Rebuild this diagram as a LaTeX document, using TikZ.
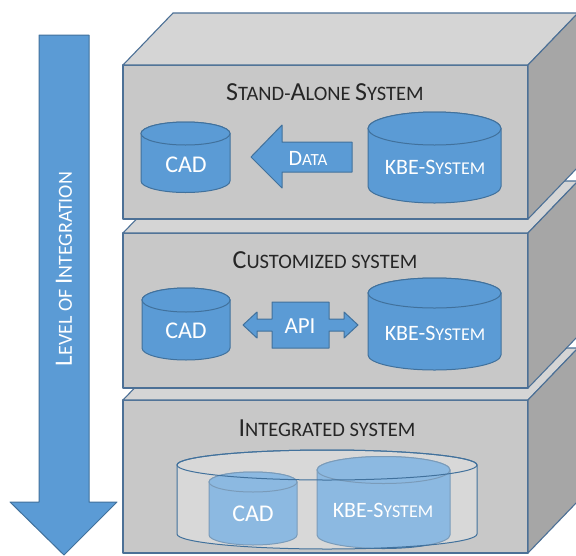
\documentclass[tikz,border=0pt]{standalone}
\usepackage{fontspec}
\setmainfont{Carlito}
\definecolor{frontc}{HTML}{C8C8C8}
\definecolor{topc}{HTML}{D5D5D5}
\definecolor{sidec}{HTML}{A6A6A6}
\definecolor{edgec}{HTML}{4C7096}
\definecolor{blu}{HTML}{5B9BD5}
\definecolor{bluedge}{HTML}{41719C}
\definecolor{txt}{HTML}{262626}
\newcommand\TB{\fontsize{26}{30}\selectfont}
\newcommand\TS{\fontsize{20.5}{24}\selectfont}
\newcommand\KB{\fontsize{22}{26}\selectfont}
\newcommand\KS{\fontsize{18}{21}\selectfont}
\newcommand\LB{\fontsize{25}{29}\selectfont}
\newcommand\LS{\fontsize{20}{24}\selectfont}
% slab: ytop, ybot
\newcommand\slab[2]{%
  \filldraw[slabedge,fill=frontc] (123,#1) rectangle (528,#2);
  \filldraw[slabedge,fill=topc] (123,#1) -- (173,#1-52) -- (578,#1-52) -- (528,#1) -- cycle;
  \filldraw[slabedge,fill=sidec] (528,#1) -- (578,#1-52) -- (578,#2-52) -- (528,#2) -- cycle;}
% cylinder: cx, ytop-center, ybot-center, rx, ry, style
\newcommand\cyl[6]{%
  \path[#6] (#1-#4,#2) -- (#1-#4,#3) arc[start angle=180,end angle=360,x radius=#4pt,y radius=#5pt]
     -- (#1+#4,#2) arc[start angle=0,end angle=180,x radius=#4pt,y radius=#5pt] -- cycle;
  \path[#6] (#1,#2) ellipse[x radius=#4pt,y radius=#5pt];}
\begin{document}
\begin{tikzpicture}[x=1pt,y=-1pt,
  slabedge/.style={draw=edgec,line width=1.1pt,line join=round},
  bluecyl/.style={fill=blu,draw=bluedge,line width=1pt},
  ttl/.style={text=txt,inner sep=0pt},
  wtxt/.style={text=white,inner sep=0pt}]
\useasboundingbox (0,0) rectangle (576,555);
\fill[white] (0,0) rectangle (576,555);
% big arrow
\filldraw[fill=blu,draw=bluedge,line width=1pt,line join=round]
  (39,35) -- (89,35) -- (89,502) -- (117,502) -- (64,555) -- (10,502) -- (39,502) -- cycle;
\node[wtxt,rotate=90] (lvl) at (64,269) {\LB L\LS EVEL OF \LB I\LS NTEGRATION};
% slabs, bottom first
\slab{400}{553}
\slab{233}{388}
\slab{65}{219}
% slab 1: stand-alone
\node[ttl] (t1) at (325,92) {\TB S\TS TAND-\TB A\TS LONE \TB S\TS YSTEM};
\cyl{185.5}{133.5}{181}{44.5}{11.5}{bluecyl}
\node[wtxt] (cad1) at (186,165) {\fontsize{24}{28}\selectfont CAD};
\cyl{434.5}{128.5}{186.5}{66.5}{16.5}{bluecyl}
\node[wtxt] (kbe1) at (435,167) {\KB KBE-S\KS YSTEM};
\filldraw[fill=blu,draw=bluedge,line width=1pt,line join=round]
  (251,157) -- (282,125) -- (282,142) -- (352,142) -- (352,172) -- (282,172) -- (282,188) -- cycle;
\node[wtxt] (data) at (308,158) {\fontsize{22}{26}\selectfont D\fontsize{17}{20}\selectfont ATA};
% slab 2: customized
\node[ttl] (t2) at (325,260) {\TB C\TS USTOMIZED SYSTEM};
\cyl{186}{300}{348}{44}{12}{bluecyl}
\node[wtxt] (cad2) at (186,331) {\fontsize{24}{28}\selectfont CAD};
\cyl{434.5}{293}{355}{66.5}{15}{bluecyl}
\node[wtxt] (kbe2) at (435,333) {\KB KBE-S\KS YSTEM};
\filldraw[fill=blu,draw=bluedge,line width=1pt,line join=round]
  (243,325) -- (257,312) -- (257,319) -- (272,319) -- (272,302) -- (329,302) -- (329,319)
  -- (344,319) -- (344,312) -- (358,325) -- (344,338) -- (344,331) -- (329,331) -- (329,348)
  -- (272,348) -- (272,331) -- (257,331) -- (257,338) -- cycle;
\node[wtxt] (api) at (300,326) {\fontsize{23}{27}\selectfont API};
% slab 3: integrated
\node[ttl] (t3) at (327,428) {\TB I\TS NTEGRATED SYSTEM};
\cyl{253}{482}{535}{44}{10}{bluecyl}
\cyl{383.5}{470}{535}{66.5}{13.5}{bluecyl}
\path[fill=white,fill opacity=0.3,draw=bluedge,line width=1pt]
  (177,465) -- (177,534) arc[start angle=180,end angle=360,x radius=150pt,y radius=15pt]
  -- (477,465) arc[start angle=0,end angle=180,x radius=150pt,y radius=15pt] -- cycle;
\draw[bluedge,line width=1pt] (327,465) ellipse[x radius=150pt,y radius=15pt];
\node[wtxt] (cad3) at (253,514) {\fontsize{24}{28}\selectfont CAD};
\node[wtxt] (kbe3) at (383,510) {\KB KBE-S\KS YSTEM};
\end{tikzpicture}
\end{document}
